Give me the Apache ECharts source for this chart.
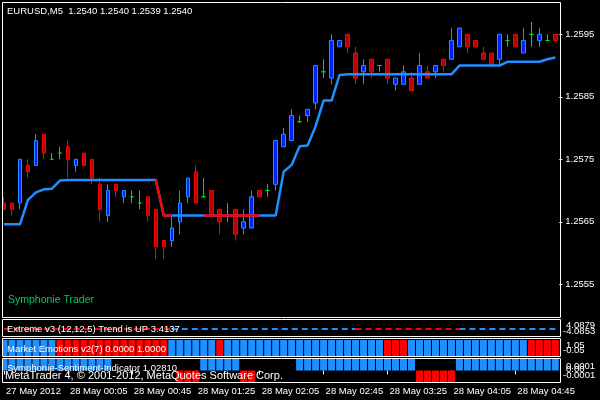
<!DOCTYPE html>
<html><head><meta charset="utf-8">
<script src="https://cdn.jsdelivr.net/npm/echarts@6/dist/echarts.min.js"></script>
<style>html,body{margin:0;padding:0;background:#000}#c{width:600px;height:400px}</style>
</head><body><div id="c"></div>
<script>
// ---- data ----
const opens=[1.2568,1.2568,1.2568,1.2574,1.2574,1.2579,1.2575,1.2576,1.2577,1.2574,
1.2576,1.2575,1.2571,1.2566,1.2571,1.2569,1.2569,1.2568,1.2569,1.2567,
1.2562,1.2562,1.2565,1.2569,1.2573,1.2569,1.2570,1.2567,1.2566,1.2567,
1.2564,1.2564,1.2570,1.2570,1.2571,1.2577,1.2578,1.2581,1.2582,1.2584,
1.2589,1.2588,1.2593,1.2595,1.2592,1.2589,1.2591,1.2590,1.2591,1.2587,
1.2587,1.2588,1.2587,1.2589,1.2589,1.2591,1.2591,1.2593,1.2595,1.2594,
1.2592,1.2592,1.2591,1.2594,1.2595,1.2592,1.2595,1.2594,1.2594,1.2595];
const closes=[1.2567,1.2567,1.2575,1.2573,1.2578,1.2576,1.2575,1.2576,1.2575,1.2575,
1.2574,1.2572,1.2567,1.2570,1.2570,1.2570,1.2569,1.2568,1.2566,1.2561,
1.2561,1.2564,1.2568,1.2572,1.2568,1.2569,1.2566,1.2565,1.2566,1.2563,
1.2565,1.2569,1.2569,1.2570,1.2578,1.2579,1.2582,1.2581,1.2583,1.2590,
1.2589,1.2594,1.2594,1.2593,1.2588,1.2590,1.2589,1.2590,1.2588,1.2588,
1.2589,1.2586,1.2590,1.2588,1.2590,1.2590,1.2594,1.2596,1.2593,1.2593,
1.2591,1.2590,1.2595,1.2594,1.2593,1.2594,1.2595,1.2595,1.2594,1.2594];
const highs=[1.2569,1.2568,1.2575,1.2575,1.2579,1.2579,1.2576,1.2577,1.2578,1.2575,
1.2576,1.2575,1.2572,1.2571,1.2571,1.2570,1.2570,1.2570,1.2569,1.2567,
1.2562,1.2566,1.2570,1.2572,1.2574,1.2572,1.2570,1.2567,1.2568,1.2567,
1.2567,1.2570,1.2570,1.2571,1.2578,1.2580,1.2583,1.2582,1.2583,1.2590,
1.2591,1.2595,1.2594,1.2595,1.2593,1.2591,1.2591,1.2590,1.2591,1.2588,
1.2590,1.2589,1.2592,1.2590,1.2590,1.2591,1.2596,1.2596,1.2595,1.2594,
1.2593,1.2592,1.2595,1.2595,1.2595,1.2596,1.2597,1.2596,1.2595,1.2595];
const lows=[1.2567,1.2566,1.2567,1.2572,1.2574,1.2575,1.2575,1.2575,1.2572,1.2573,
1.2574,1.2571,1.2565,1.2565,1.2569,1.2568,1.2568,1.2567,1.2565,1.2559,
1.2559,1.2561,1.2563,1.2568,1.2568,1.2569,1.2566,1.2563,1.2565,1.2562,
1.2563,1.2564,1.2569,1.2569,1.2570,1.2577,1.2578,1.2581,1.2581,1.2583,
1.2588,1.2587,1.2593,1.2592,1.2587,1.2587,1.2588,1.2589,1.2587,1.2586,
1.2587,1.2586,1.2587,1.2588,1.2588,1.2589,1.2591,1.2593,1.2592,1.2593,
1.2591,1.2590,1.2590,1.2593,1.2593,1.2592,1.2593,1.2593,1.2594,1.2594];
// trailing stop line (per candle)
const trail=[1.25646,1.25646,1.25646,1.25685,1.25697,1.25702,1.25703,1.25716,1.25717,1.25717,
1.25717,1.25717,1.25717,1.25717,1.25717,1.25717,1.25717,1.25717,1.25717,1.25717,
1.25660,1.25660,1.25660,1.25660,1.25660,1.25660,1.25660,1.25660,1.25660,1.25660,
1.25660,1.25660,1.25660,1.25660,1.25660,1.25730,1.25741,1.25771,1.25772,1.25803,
1.25844,1.25844,1.25885,1.25886,1.25886,1.25886,1.25886,1.25886,1.25886,1.25886,
1.25886,1.25886,1.25886,1.25886,1.25886,1.25886,1.25886,1.25900,1.25900,1.25900,
1.25900,1.25900,1.25900,1.25906,1.25906,1.25906,1.25906,1.25906,1.25910,1.25913];
// 1 = trail drawn red (down state)
const trailRed=[0,0,0,0,0,0,0,0,0,0, 0,0,0,0,0,0,0,0,0,1, 1,1,0,0,0,1,1,1,1,1,
1,1,1,0,0,0,0,0,0,0, 0,0,0,0,0,0,0,0,0,0, 0,0,0,0,0,0,0,0,0,0, 0,0,0,0,0,0,0,0,0,0];
// Extreme v3 trend: 1 up (blue), -1 down (red)
const extremeTrend=[-1,-1,-1,-1,-1,-1,-1,-1,-1,-1, -1,-1,-1,-1,-1,-1,-1,-1,-1,-1,
-1,-1,1,1,1,1,1,1,1,1, 1,1,1,1,1,1,1,1,1,1, 1,1,1,1,1,-1,-1,-1,-1,-1,
-1,-1,-1,-1,-1,-1,-1,-1,1,1, 1,1,1,1,1,1,1,1,1,1];
// Market Emotions: 1 up (blue), 0 down (red)
const emotions=[1,1,1,1,1,1,1,0,0,0, 0,0,0,0,0,0,0,0,0,0, 0,1,1,1,1,1,1,0,1,1,
1,1,1,1,1,1,1,1,1,1, 1,1,1,1,1,1,1,1,0,0, 0,1,1,1,1,1,1,1,1,1, 1,1,1,1,1,1,0,0,0,0];
// Sentiment: 1 bull, -1 bear, 0 none
const sentiment=[1,1,1,1,1,1,1,1,1,1, 1,1,1,1,0,0,0,0,0,0, 0,0,-1,-1,-1,1,1,1,1,1,
-1,-1,0,0,0,0,0,1,1,1, 1,1,1,1,1,1,1,1,1,1, 1,1,-1,-1,-1,-1,-1,1,1,1, 1,1,1,1,1,1,1,1,1,1];
const tickLabels=['27 May 2012','28 May 00:05','28 May 00:45','28 May 01:25','28 May 02:05','28 May 02:45','28 May 03:25','28 May 04:05','28 May 04:45'];
const priceTicks=[1.2555,1.2565,1.2575,1.2585,1.2595];
const sub1Labels=['4.0879','-4.0853'];
const sub2Labels=['1.05','-0.05'];
const sub3Labels=['0.0001','0.00','-0.0001'];
const titleText='EURUSD,M5  1.2540 1.2540 1.2539 1.2540';

// ---- build ----
const times=[];
for(let k=0;k<opens.length;k++){const m=(23*60+25+5*k)%1440;times.push(String(Math.floor(m/60)).padStart(2,'0')+':'+String(m%60).padStart(2,'0'));}
const ohlc=opens.map((o,i)=>[o,closes[i],lows[i],highs[i]]);
const trailRedData=trail.map((v,i)=>trailRed[i]?v:null);
const extBlue=extremeTrend.map((t,i)=>(t>0||extremeTrend[i+1]>0)?0:null);
const extRed=extremeTrend.map((t,i)=>(t<0||extremeTrend[i+1]<0)?0:null);
const FONT='Liberation Sans';
const W='#ffffff';
const chart=echarts.init(document.getElementById('c'),null,{renderer:'canvas'});
const GL=-0.7, GW=560;
const yMax=1.2600168, yMin=1.2549768;
function catAxis(i,show){return {type:'category',gridIndex:i,data:times,boundaryGap:true,show:show,
 axisLine:{show:false},splitLine:{show:false},
 axisTick:{show:show,alignWithLabel:true,interval:7,length:4,lineStyle:{color:W}},
 axisLabel:{show:show,interval:7,color:W,fontFamily:FONT,fontSize:9.5,align:'left',margin:4,padding:[0,0,0,2],
   formatter:(v,idx)=>tickLabels[Math.round(idx/8)]||''}};}
function txt(text,x,y,opt){return Object.assign({type:'text',x:x,y:y,z:100,silent:true,
  style:{text:text,fill:W,font:'9.5px "'+FONT+'"',verticalAlign:'middle',align:'left'}},opt||{});}
function rect(x1,y1,x2,y2){return {type:'rect',z:99,silent:true,shape:{x:x1,y:y1,width:x2-x1,height:y2-y1},style:{fill:null,stroke:W,lineWidth:1}};}
const graphics=[
 {type:'rect',z:98,silent:true,shape:{x:0,y:0,width:2.5,height:400},style:{fill:'#000'}},
 rect(2.5,2.5,560.5,317.5), rect(2.5,319.5,560.5,336.5), rect(2.5,338.5,560.5,356.5), rect(2.5,358.5,560.5,382.5),
 txt(titleText,7,11),
 txt('Symphonie Trader',8,300,{style:{text:'Symphonie Trader',fill:'#00c864',font:'10.5px "'+FONT+'"',verticalAlign:'middle'}}),
 txt('Extreme v3 (12,12,5) Trend is UP 3.4137',7,329),
 txt('Market Emotions v2(7) 0.0000 1.0000',7,349),
 txt('Symphonie-Sentiment-Indicator 1.02810',7,368),
 txt('MetaTrader 4, \u00a9 2001-2012, MetaQuotes Software Corp.',5,375.5,{style:{text:'MetaTrader 4, \u00a9 2001-2012, MetaQuotes Software Corp.',fill:W,font:'11px "'+FONT+'"',verticalAlign:'middle'}}),
 txt(sub1Labels[0],566,325), txt(sub1Labels[1],563,331),
 txt(sub2Labels[0],566,345), txt(sub2Labels[1],563,350),
 txt(sub3Labels[0],566,366), txt(sub3Labels[1],566,369), txt(sub3Labels[2],563,375.5)
];
chart.setOption({
 animation:false, backgroundColor:'#000',
 grid:[{left:GL,top:2,width:GW,height:315},{left:GL,top:320,width:GW,height:18},{left:GL,top:340,width:GW,height:16},{left:GL,top:359,width:GW,height:23}],
 xAxis:[catAxis(0,false),catAxis(1,false),catAxis(2,false),catAxis(3,true)],
 yAxis:[
  {type:'value',gridIndex:0,position:'right',min:yMin,max:yMax,scale:true,splitLine:{show:false},axisLine:{show:false},
   axisTick:{show:true,length:3,customValues:priceTicks,lineStyle:{color:W}},
   axisLabel:{customValues:priceTicks,color:W,fontFamily:FONT,fontSize:9.5,margin:6,formatter:v=>v.toFixed(4)}},
  {type:'value',gridIndex:1,min:-1,max:1,show:false},
  {type:'value',gridIndex:2,min:0,max:1,show:false},
  {type:'value',gridIndex:3,min:-1,max:1,show:false}
 ],
 series:[
  {type:'candlestick',xAxisIndex:0,yAxisIndex:0,data:ohlc,barWidth:4,
   itemStyle:{color:'#0022ff',color0:'#b80000',borderColor:'#1e90ff',borderColor0:'#ff0000',borderColorDoji:'#00e000',borderWidth:1}},
  {type:'line',xAxisIndex:0,yAxisIndex:0,data:trail,symbol:'none',lineStyle:{color:'#1e90ff',width:2.5},z:3},
  {type:'line',xAxisIndex:0,yAxisIndex:0,data:trailRedData,symbol:'none',lineStyle:{color:'#ff0000',width:2.5},z:4},
  {type:'line',xAxisIndex:1,yAxisIndex:1,data:extBlue,symbol:'none',lineStyle:{color:'#1e90ff',width:2,type:[6,4]}},
  {type:'line',xAxisIndex:1,yAxisIndex:1,data:extRed,symbol:'none',lineStyle:{color:'#ff0000',width:2,type:[6,4]}},
  {type:'bar',xAxisIndex:2,yAxisIndex:2,barWidth:7,
   data:emotions.map(e=>({value:1,itemStyle:{color:e?'#1e90ff':'#ff0000'}}))},
  {type:'bar',xAxisIndex:3,yAxisIndex:3,barWidth:7,
   data:sentiment.map(s=>({value:s===0?null:s,itemStyle:{color:s>0?'#1e90ff':'#ff0000'}}))}
 ],
 graphic:graphics
});
</script></body></html>
